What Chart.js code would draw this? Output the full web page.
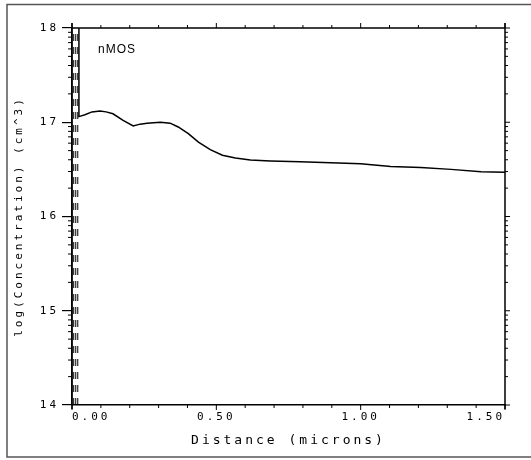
<!DOCTYPE html>
<html>
<head>
<meta charset="utf-8">
<script src="https://cdn.jsdelivr.net/npm/chart.js@4/dist/chart.umd.min.js"></script>
<style>
  html, body { margin: 0; padding: 0; background: #fff; }
  canvas { display: block; }
</style>
</head>
<body>
<canvas id="c" width="531" height="460"></canvas>
<script>
// depth profile
var depthX = [0.024, 0.024, 0.045, 0.069, 0.097, 0.118, 0.142, 0.177, 0.212, 0.236, 0.26, 0.306, 0.34, 0.368, 0.403, 0.438, 0.479, 0.521, 0.566, 0.618, 0.687, 0.79, 0.896, 1.0, 1.104, 1.208, 1.313, 1.417, 1.5];
var logConc = [18.3, 17.06, 17.08, 17.11, 17.12, 17.11, 17.09, 17.02, 16.96, 16.98, 16.99, 17.0, 16.99, 16.95, 16.88, 16.79, 16.71, 16.65, 16.62, 16.60, 16.59, 16.58, 16.57, 16.56, 16.53, 16.52, 16.50, 16.475, 16.47];
// dashed vertical lines near the surface
var dashX = [0.006, 0.013, 0.020];
var xTicks = [0, 0.5, 1.0, 1.5];
var yTicks = [14, 15, 16, 17, 18];
var xLabel = "Distance (microns)";
var yLabel = "log(Concentration) (cm^3)";
var note = "nMOS";

var datasets = [{
    data: depthX.map(function (x, i) { return { x: x, y: logConc[i] }; }),
    borderColor: "#000",
    borderWidth: 1.5,
    pointRadius: 0,
    tension: 0
}];
for (var d of dashX) {
    datasets.push({
        data: [{ x: d, y: 14 }, { x: d, y: 18 }],
        borderColor: "#000",
        borderWidth: 1,
        borderDash: [7, 6],
        pointRadius: 0
    });
}

//frame, extra axes, minor ticks, note
var decor = {
    id: "decor",
    beforeDraw: function (chart) {
        var ctx = chart.ctx;
        ctx.save();
        ctx.strokeStyle = "#555";
        ctx.lineWidth = 1.5;
        ctx.beginPath();
        ctx.moveTo(531, 4.5); ctx.lineTo(7, 4.5); ctx.lineTo(7, 457); ctx.lineTo(531, 457);
        ctx.stroke();
        ctx.restore();
        ctx.letterSpacing = "3px";
    },
    afterDraw: function (chart) {
        var ctx = chart.ctx;
        var xs = chart.scales.x, ys = chart.scales.y;
        var a = chart.chartArea;
        ctx.save();
        ctx.strokeStyle = "#000";
        ctx.lineWidth = 1.5;
        ctx.beginPath();
        ctx.moveTo(a.left, a.top - 5); ctx.lineTo(a.left, a.bottom + 4);
        ctx.moveTo(a.right, a.top - 5); ctx.lineTo(a.right, a.bottom + 4);
        ctx.moveTo(a.left, a.top); ctx.lineTo(a.right, a.top);
        ctx.stroke();

        ctx.lineWidth = 1;
        ctx.beginPath();
        // x minor ticks, bottom and top
        for (var i = 0; i <= 15; i++) {
            var px = xs.getPixelForValue(i / 10);
            var len = (i % 5 == 0) ? 5 : 3;
            ctx.moveTo(px, a.bottom); ctx.lineTo(px, a.bottom + len);
            ctx.moveTo(px, a.top); ctx.lineTo(px, a.top - len);
        }
        // log-decade minor ticks, left and right
        for (var dec = 14; dec < 18; dec++) {
            for (var k = 2; k <= 9; k++) {
                var py = ys.getPixelForValue(dec + Math.log10(k));
                ctx.moveTo(a.left, py); ctx.lineTo(a.left - 4, py);
                ctx.moveTo(a.right, py); ctx.lineTo(a.right + 3, py);
            }
        }
        for (var t of yTicks) {
            var py2 = ys.getPixelForValue(t);
            ctx.moveTo(a.right, py2); ctx.lineTo(a.right + 5, py2);
        }
        ctx.stroke();

        ctx.letterSpacing = "1px";
        ctx.fillStyle = "#000";
        ctx.font = "12px 'Liberation Sans'";
        ctx.textBaseline = "middle";
        ctx.fillText(note, 98, 50);
        ctx.restore();
    }
};

new Chart(document.getElementById("c"), {
    type: "line",
    data: { datasets: datasets },
    options: {
        responsive: false,
        animation: false,
        devicePixelRatio: 1,
        layout: { padding: { top: 28, right: 26, left: 0, bottom: 0 } },
        plugins: { legend: { display: false }, tooltip: { enabled: false } },
        scales: {
            x: {
                type: "linear",
                min: 0, max: 1.5,
                afterBuildTicks: function (s) { s.ticks = xTicks.map(function (v) { return { value: v }; }); },
                afterFit: function (s) { s.height = 55; },
                ticks: {
                    autoSkip: false, maxRotation: 0, align: "inner", padding: 6,
                    color: "#000",
                    font: { family: "'DejaVu Sans Mono'", size: 11 },
                    callback: function (v) { return v.toFixed(2); }
                },
                grid: { drawOnChartArea: false, tickLength: 0, color: "#000" },
                border: { color: "#000", width: 1.5 },
                title: {
                    display: true, text: xLabel, color: "#000",
                    font: { family: "'DejaVu Sans Mono'", size: 13 },
                    padding: { top: 0, bottom: 12 }
                }
            },
            y: {
                type: "linear",
                min: 14, max: 18,
                afterBuildTicks: function (s) { s.ticks = yTicks.map(function (v) { return { value: v }; }); },
                afterFit: function (s) { s.width = 72; },
                ticks: {
                    padding: 3, color: "#000",
                    font: { family: "'DejaVu Sans Mono'", size: 11 }
                },
                grid: { drawOnChartArea: false, tickLength: 10, color: "#000", lineWidth: 1.2 },
                border: { color: "#000", width: 1.5 },
                title: {
                    display: true, text: yLabel, color: "#000",
                    font: { family: "'DejaVu Sans Mono'", size: 11 },
                    padding: { top: 13, bottom: 0 }
                }
            }
        }
    },
    plugins: [decor]
});
</script>
</body>
</html>
